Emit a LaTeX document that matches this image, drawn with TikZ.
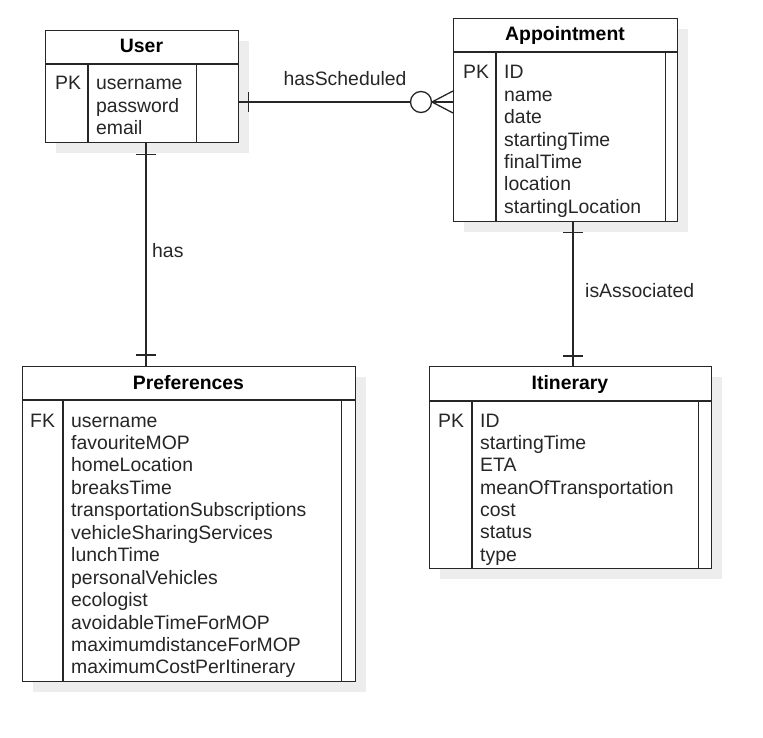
\documentclass[tikz,border=0pt]{standalone}
\usepackage{fontspec}
\setmainfont{Liberation Sans}
\usetikzlibrary{positioning, shadows}

\begin{document}
\begin{tikzpicture}[x=1pt, y=-1pt,
    font=\fontsize{19.4}{22.4}\selectfont,
    tbl/.style={rectangle, draw=black!85, line width=1.4pt, fill=white, inner sep=0pt, anchor=north west,
        drop shadow={shadow xshift=10pt, shadow yshift=-10pt, fill=black!7, opacity=1}},
    tblline/.style={draw=black!85, line width=1.4pt},
    tblhead/.style={font=\fontsize{19.4}{22.4}\selectfont\bfseries, anchor=base, inner sep=0pt},
    field/.style={anchor=base west, inner sep=0pt, text=black!85},
    rel/.style={draw=black!85, line width=1.3pt},
    lbl/.style={anchor=base west, inner sep=0pt, text=black!85}]
    \useasboundingbox (0,0) rectangle (763,738);

    % Tables
    \node[tbl, minimum width=193, minimum height=112] (user) at (45,30) {};
    \node[tbl, minimum width=224, minimum height=203] (appt) at (453,18) {};
    \node[tbl, minimum width=333, minimum height=315] (pref) at (22,366) {};
    \node[tbl, minimum width=282, minimum height=202] (itin) at (429,366) {};

    % Separators
    \draw[tblline] ([yshift=-34pt]user.north west) -- ([yshift=-34pt]user.north east);
    \draw[tblline] ([shift={(43pt,-34pt)}]user.north west) -- ([xshift=43pt]user.south west);
    \draw[tblline] ([shift={(-43pt,-34pt)}]user.north east) -- ([xshift=-43pt]user.south east);
    \draw[tblline] ([yshift=-34pt]appt.north west) -- ([yshift=-34pt]appt.north east);
    \draw[tblline] ([shift={(43pt,-34pt)}]appt.north west) -- ([xshift=43pt]appt.south west);
    \draw[tblline] ([shift={(-13pt,-34pt)}]appt.north east) -- ([xshift=-13pt]appt.south east);
    \draw[tblline] ([yshift=-34pt]pref.north west) -- ([yshift=-34pt]pref.north east);
    \draw[tblline] ([shift={(41pt,-34pt)}]pref.north west) -- ([xshift=41pt]pref.south west);
    \draw[tblline] ([shift={(-15pt,-34pt)}]pref.north east) -- ([xshift=-15pt]pref.south east);
    \draw[tblline] ([yshift=-35pt]itin.north west) -- ([yshift=-35pt]itin.north east);
    \draw[tblline] ([shift={(43pt,-35pt)}]itin.north west) -- ([xshift=43pt]itin.south west);
    \draw[tblline] ([shift={(-14pt,-35pt)}]itin.north east) -- ([xshift=-14pt]itin.south east);

    % Titles and keys
    \node[tblhead] (usertitle) at (141.5,53) {User};
    \node[tblhead] (appttitle) at (565,41) {Appointment};
    \node[tblhead] (preftitle) at (188.5,389) {Preferences};
    \node[tblhead] (itintitle) at (570,389) {Itinerary};
    \node[field] (userkey) at (55,90) {PK};
    \node[field] (apptkey) at (463,79) {PK};
    \node[field] (prefkey) at (30,427) {FK};
    \node[field] (itinkey) at (438,427) {PK};

    % Fields
    \foreach \f [count=\i from 0] in {username,password,email}
        \node[field] (user\i) at (96,90+22.4*\i) {\f};
    \foreach \f [count=\i from 0] in {ID,name,date,startingTime,finalTime,location,startingLocation}
        \node[field] (appt\i) at (504,79+22.35*\i) {\f};
    \foreach \f [count=\i from 0] in {username,favouriteMOP,homeLocation,breaksTime,transportationSubscriptions,
            vehicleSharingServices,lunchTime,personalVehicles,ecologist,avoidableTimeForMOP,
            maximumdistanceForMOP,maximumCostPerItinerary}
        \node[field] (pref\i) at (71,427+22.45*\i) {\f};
    \foreach \f [count=\i from 0] in {ID,startingTime,ETA,meanOfTransportation,cost,status,type}
        \node[field] (itin\i) at (480,427+22.35*\i) {\f};

    % Relations
    \coordinate (hsy) at (0,102);
    \coordinate (hasx) at (146,0);
    \coordinate (isx) at (573,0);
    \coordinate (hsa) at (user.east |- hsy);
    \coordinate (hsb) at (appt.west |- hsy);
    \coordinate (hasa) at (user.south -| hasx);
    \coordinate (hasb) at (pref.north -| hasx);
    \coordinate (isa) at (appt.south -| isx);
    \coordinate (isb) at (itin.north -| isx);

    \draw[rel] (hsa) -- (hsb);
    \draw[rel] (hsa) ++(9,-10) -- ++(0,20);
    \draw[rel, fill=white] (hsb) ++(-32,0) circle[radius=10.5];
    \draw[rel] (hsb) ++(0,-11) -- ++(-21,11) -- ++(21,11);
    \node[lbl, anchor=base] (hslbl) at (345,86) {hasScheduled};

    \draw[rel] (hasa) -- (hasb);
    \draw[rel] (hasa) ++(-10,11) -- ++(20,0);
    \draw[rel] (hasb) ++(-10,-11) -- ++(20,0);
    \node[lbl] (haslbl) at (152,258) {has};

    \draw[rel] (isa) -- (isb);
    \draw[rel] (isa) ++(-10,10) -- ++(20,0);
    \draw[rel] (isb) ++(-10,-10) -- ++(20,0);
    \node[lbl] (islbl) at (585,297) {isAssociated};
\end{tikzpicture}
\end{document}
